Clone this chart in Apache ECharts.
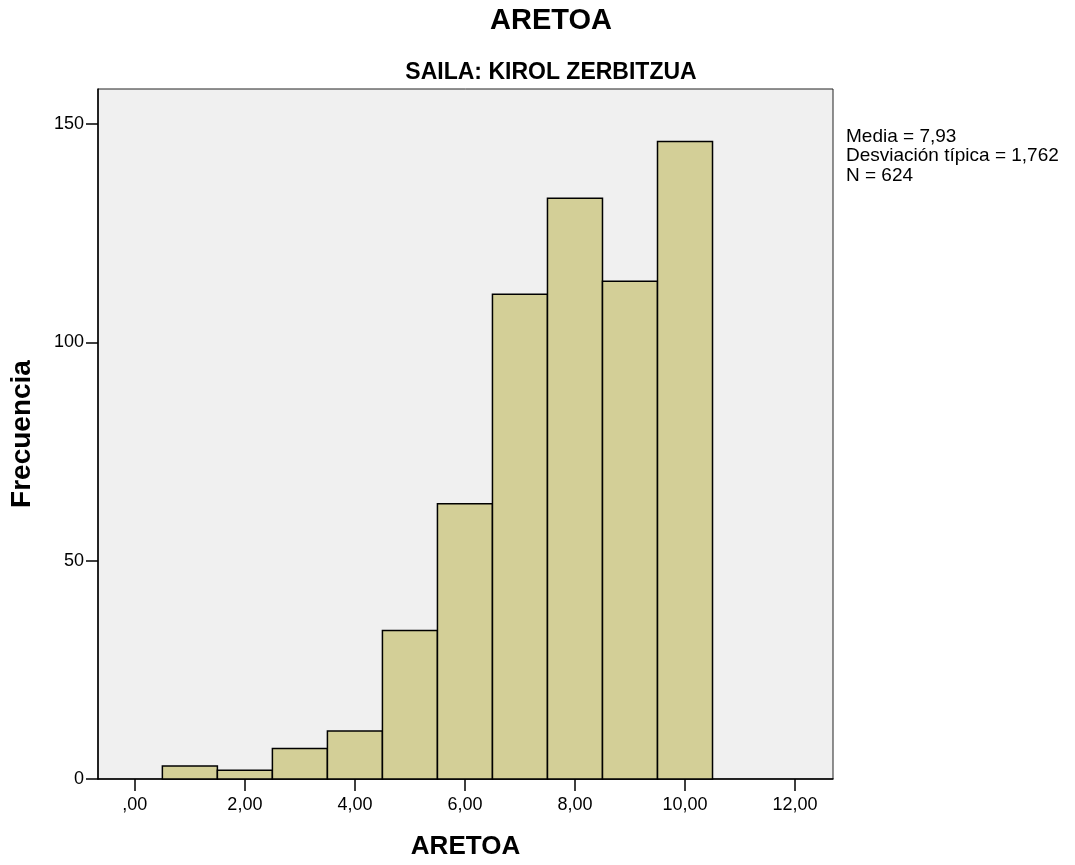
<!DOCTYPE html>
<html>
<head>
<meta charset="utf-8">
<script src="https://cdn.jsdelivr.net/npm/echarts@6/dist/echarts.min.js"></script>
<style>
html,body{margin:0;padding:0;background:#fff;}
#chart{width:1075px;height:865px;}
</style>
</head>
<body>
<div id="chart"></div>
<script>
const binCenters = [1, 2, 3, 4, 5, 6, 7, 8, 9, 10];
const frequencies = [3, 2, 7, 11, 34, 63, 111, 133, 114, 146];
const binWidth = 1;
const xTicks = [0, 2, 4, 6, 8, 10, 12];
const yTicks = [0, 50, 100, 150];
const statsLines = ['Media = 7,93', 'Desviación típica = 1,762', 'N = 624'];
const mainTitle = 'ARETOA';
const subTitle = 'SAILA: KIROL ZERBITZUA';
const xName = 'ARETOA';
const yName = 'Frecuencia';

const FONT = '"Liberation Sans", Arial, sans-serif';
const chart = echarts.init(document.getElementById('chart'), null, {renderer: 'canvas'});

const data = binCenters.map((c, i) => [c, frequencies[i]]);

function fmtX(v) {
  if (v === 0) return ',00';
  return v.toFixed(2).replace('.', ',');
}

chart.setOption({
  animation: false,
  backgroundColor: '#ffffff',
  title: [
    {text: mainTitle, left: 546, top: 1, textAlign: 'center',
     textStyle: {fontFamily: FONT, fontSize: 29, fontWeight: 'bold', color: '#000'}},
    {text: subTitle, left: 546, top: 56, textAlign: 'center',
     textStyle: {fontFamily: FONT, fontSize: 23, fontWeight: 'bold', color: '#000'}}
  ],
  graphic: [
    {type: 'text', left: 846, top: 127,
     style: {text: statsLines.join('\n'), font: '19px ' + FONT, fill: '#000', lineHeight: 19.5}}
  ],
  grid: {left: 98, right: 242, top: 89, bottom: 86, show: true,
         containLabel: false, outerBoundsMode: 'none',
         backgroundColor: '#f0f0f0', borderColor: '#222', borderWidth: 1},
  xAxis: {
    type: 'value', min: -0.67, max: 12.69,
    name: xName, nameLocation: 'middle', nameGap: 55,
    nameTextStyle: {fontFamily: FONT, fontSize: 26, fontWeight: 'bold', color: '#000'},
    axisLine: {show: true, onZero: false, lineStyle: {color: '#000', width: 1.5}},
    axisTick: {show: true, length: 12, lineStyle: {color: '#000', width: 1.5}, customValues: xTicks},
    axisLabel: {customValues: xTicks, formatter: fmtX, fontFamily: FONT, fontSize: 18, color: '#000', margin: 17},
    splitLine: {show: false}
  },
  yAxis: {
    type: 'value', min: 0, max: 158,
    name: yName, nameLocation: 'middle', nameGap: 62, nameRotate: 90,
    nameTextStyle: {fontFamily: FONT, fontSize: 28, fontWeight: 'bold', color: '#000'},
    axisLine: {show: true, onZero: false, lineStyle: {color: '#000', width: 1.5}},
    axisTick: {show: true, length: 12, lineStyle: {color: '#000', width: 1.5}, customValues: yTicks},
    axisLabel: {customValues: yTicks, fontFamily: FONT, fontSize: 18, color: '#000', margin: 14},
    splitLine: {show: false}
  },
  series: [{
    type: 'custom',
    data: data,
    renderItem: function (params, api) {
      const c = api.value(0), f = api.value(1);
      const p0 = api.coord([c - binWidth / 2, f]);
      const p1 = api.coord([c + binWidth / 2, 0]);
      return {
        type: 'rect',
        shape: {x: p0[0], y: p0[1], width: p1[0] - p0[0], height: p1[1] - p0[1]},
        style: {fill: '#d3cf97', stroke: '#000', lineWidth: 1.5}
      };
    },
    encode: {x: 0, y: 1}
  }]
});
</script>
</body>
</html>
